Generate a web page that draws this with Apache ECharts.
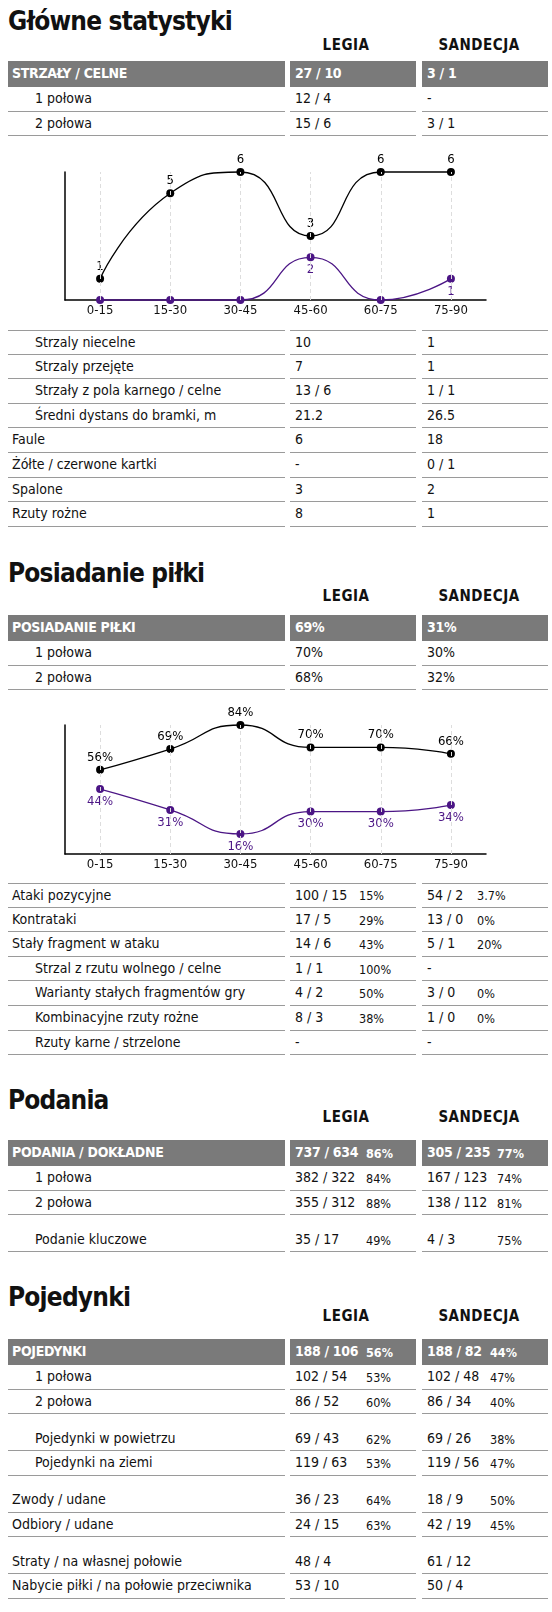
<!DOCTYPE html>
<html lang="pl">
<head>
<meta charset="UTF-8">
<title>Legia - Sandecja</title>
<script src="https://cdn.jsdelivr.net/npm/echarts@6/dist/echarts.min.js"></script>
<style>
  body { margin: 0; width: 552px; height: 1612px; position: relative; background: #fff;
         font-family: "Liberation Sans Narrow", "DejaVu Sans Condensed", "Roboto", sans-serif; color: #111; }
  .abs { position: absolute; }
  .title { font-size: 26px; font-weight: bold; left: 8px; line-height: 30px; letter-spacing: -0.8px; }
  .team { font-size: 15px; font-weight: bold; line-height: 20px; letter-spacing: 0.5px; transform: translateX(-50%); }
  .cell { position: absolute; box-sizing: border-box; border-bottom: 1.5px solid #9a9a9a; font-size: 14px; white-space: nowrap; }
  .cell.top { border-top: 1.5px solid #9a9a9a; }
  .cell.head { background: #7a7a7a; color: #fff; font-weight: bold; border-bottom: none; letter-spacing: -0.3px; }
  .pct { position: absolute; font-size: 12.5px; }
  .chart { position: absolute; left: 0; width: 552px; }
</style>
</head>
<body>
<div id="root"></div>
<div class="chart" id="chart1" style="top:140px;height:185px"></div>
<div class="chart" id="chart2" style="top:690px;height:190px"></div>
<script>
// dane do wykresów
const periods = ['0-15', '15-30', '30-45', '45-60', '60-75', '75-90'];
const shotsLegia = [1, 5, 6, 3, 6, 6];
const shotsSandecja = [0, 0, 0, 2, 0, 1];
const possLegia = [56, 69, 84, 70, 70, 66];
const possSandecja = [44, 31, 16, 30, 30, 34];

// tabele: [etykieta, wcięcie, legia, legia %, sandecja, sandecja %, odstęp przed]
const shotsHead = ['STRZAŁY / CELNE', '27 / 10', '', '3 / 1', ''];
const shotsHalves = [
  ['1 połowa', 1, '12 / 4', '', '-', ''],
  ['2 połowa', 1, '15 / 6', '', '3 / 1', '']
];
const mainRows = [
  ['Strzaly niecelne', 1, '10', '', '1', ''],
  ['Strzaly przejęte', 1, '7', '', '1', ''],
  ['Strzały z pola karnego / celne', 1, '13 / 6', '', '1 / 1', ''],
  ['Średni dystans do bramki, m', 1, '21.2', '', '26.5', ''],
  ['Faule', 0, '6', '', '18', ''],
  ['Żółte / czerwone kartki', 0, '-', '', '0 / 1', ''],
  ['Spalone', 0, '3', '', '2', ''],
  ['Rzuty rożne', 0, '8', '', '1', '']
];
const possHead = ['POSIADANIE PIŁKI', '69%', '', '31%', ''];
const possHalves = [
  ['1 połowa', 1, '70%', '', '30%', ''],
  ['2 połowa', 1, '68%', '', '32%', '']
];
const attackRows = [
  ['Ataki pozycyjne', 0, '100 / 15', '15%', '54 / 2', '3.7%'],
  ['Kontrataki', 0, '17 / 5', '29%', '13 / 0', '0%'],
  ['Stały fragment w ataku', 0, '14 / 6', '43%', '5 / 1', '20%'],
  ['Strzal z rzutu wolnego / celne', 1, '1 / 1', '100%', '-', ''],
  ['Warianty stałych fragmentów gry', 1, '4 / 2', '50%', '3 / 0', '0%'],
  ['Kombinacyjne rzuty rożne', 1, '8 / 3', '38%', '1 / 0', '0%'],
  ['Rzuty karne / strzelone', 1, '-', '', '-', '']
];
const passHead = ['PODANIA / DOKŁADNE', '737 / 634', '86%', '305 / 235', '77%'];
const passRows = [
  ['1 połowa', 1, '382 / 322', '84%', '167 / 123', '74%'],
  ['2 połowa', 1, '355 / 312', '88%', '138 / 112', '81%'],
  ['Podanie kluczowe', 1, '35 / 17', '49%', '4 / 3', '75%', 1]
];
const duelHead = ['POJEDYNKI', '188 / 106', '56%', '188 / 82', '44%'];
const duelRows = [
  ['1 połowa', 1, '102 / 54', '53%', '102 / 48', '47%'],
  ['2 połowa', 1, '86 / 52', '60%', '86 / 34', '40%'],
  ['Pojedynki w powietrzu', 1, '69 / 43', '62%', '69 / 26', '38%', 1],
  ['Pojedynki na ziemi', 1, '119 / 63', '53%', '119 / 56', '47%'],
  ['Zwody / udane', 0, '36 / 23', '64%', '18 / 9', '50%', 1],
  ['Odbiory / udane', 0, '24 / 15', '63%', '42 / 19', '45%'],
  ['Straty / na własnej połowie', 0, '48 / 4', '', '61 / 12', '', 1],
  ['Nabycie piłki / na połowie przeciwnika', 0, '53 / 10', '', '50 / 4', '']
];

const root = document.getElementById('root');
const cols = [[8, 277], [290, 126], [422, 126]];

function el(cls, txt, css) {
  const d = document.createElement('div');
  d.className = cls;
  d.textContent = txt;
  Object.assign(d.style, css);
  root.appendChild(d);
  return d;
}

function title(txt, y, teamY) {
  el('abs title', txt, { top: (y - 15) + 'px' });
  el('abs team', 'LEGIA', { left: '346px', top: (teamY - 10) + 'px' });
  el('abs team', 'SANDECJA', { left: '479px', top: (teamY - 10) + 'px' });
}

function row(y, h, r, opts) {
  const vals = opts.head ? [r[0], r[1], r[3]] : [r[0], r[2], r[4]];
  const pcts = opts.head ? [r[2], r[4]] : [r[3], r[5]];
  cols.forEach((c, i) => {
    const d = el('cell' + (opts.head ? ' head' : '') + (opts.top ? ' top' : ''), '', {
      left: c[0] + 'px', width: c[1] + 'px', top: y + 'px', height: h + 'px', lineHeight: (h - 1) + 'px',
      paddingLeft: (i === 0 ? (opts.head || !r[1] ? 4 : 27) : 5) + 'px'
    });
    d.textContent = vals[i];
  });
  pcts.forEach((p, i) => {
    if (!p) return;
    el('pct', p, { left: opts.pct[i] + 'px', top: y + 'px', lineHeight: (h + 1) + 'px',
      fontWeight: opts.head ? 'bold' : 'normal', color: opts.head ? '#fff' : '#111' });
  });
}

function table(y, head, rows, pct, topLine) {
  const H = 24.6;
  if (head) { row(y, 26, head, { head: true, pct: pct }); y += 26; }
  rows.forEach((r, i) => {
    if (r[6]) y += 12.4;
    row(y, H, r, { pct: pct, top: topLine && i === 0 });
    y += H;
  });
}

title('Główne statystyki', 21, 45);
table(61, shotsHead, shotsHalves, [359, 477]);
table(330, null, mainRows, [359, 477], true);
title('Posiadanie piłki', 573, 596);
table(615, possHead, possHalves, [359, 477]);
table(883, null, attackRows, [359, 477], true);
title('Podania', 1100, 1117);
table(1140, passHead, passRows, [366, 497]);
title('Pojedynki', 1297, 1316);
table(1339, duelHead, duelRows, [366, 490]);

// wykresy
const PURPLE = '#4b1585';
const FONT = '"Liberation Sans Narrow", "DejaVu Sans Condensed", sans-serif';

function lineChart(id, top, height, min, max, a, b, fmt) {
  const chart = echarts.init(document.getElementById(id), null, { renderer: 'canvas' });
  const guides = periods.map(p => ({ xAxis: p }));
  const mk = (data, color, pos, extra) => Object.assign({
    type: 'line', data: data, smooth: 0.55, clip: false,
    symbol: 'circle', symbolSize: 8,
    lineStyle: { color: color, width: 1.3 }, itemStyle: { color: color },
    label: { show: true, position: pos, distance: 2, color: color, fontSize: 13, fontFamily: FONT,
             formatter: p => fmt(p.value) },
    z: 3
  }, extra || {});
  chart.setOption({
    animation: false,
    grid: { left: 65, right: 66, top: top, height: height },
    xAxis: {
      type: 'category', data: periods, boundaryGap: true,
      axisLine: { lineStyle: { color: '#000', width: 1.5 } },
      axisTick: { show: false },
      axisLabel: { color: '#111', fontSize: 13, fontFamily: FONT, margin: 4 }
    },
    yAxis: {
      type: 'value', min: min, max: max,
      axisLine: { show: true, lineStyle: { color: '#000', width: 1.5 } },
      axisTick: { show: false }, axisLabel: { show: false }, splitLine: { show: false }
    },
    series: [
      mk(a, '#000', 'top', {
        markLine: { silent: true, symbol: 'none', label: { show: false },
          lineStyle: { color: '#ddd', type: [4, 3], width: 1 }, data: guides }
      }),
      mk(b, PURPLE, 'bottom')
    ]
  });
}

lineChart('chart1', 32, 128, 0, 6, shotsLegia, shotsSandecja, v => v === 0 ? '' : String(v));
lineChart('chart2', 35, 129, 3.5, 84, possLegia, possSandecja, v => v + '%');
</script>
</body>
</html>
